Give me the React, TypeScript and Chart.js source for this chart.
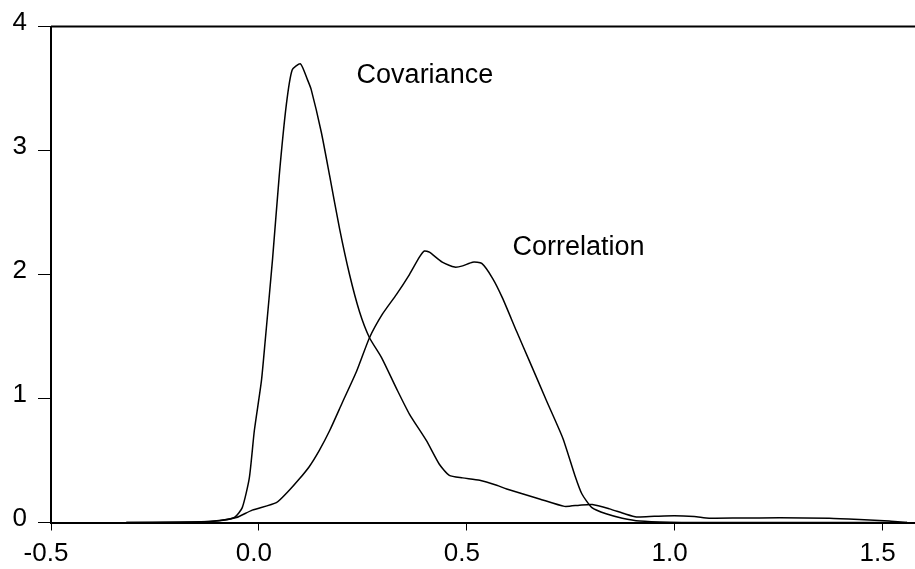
import React, { useEffect, useRef } from "react";
import { Chart, registerables } from "chart.js";

Chart.register(...registerables);

const covX = [-0.319, -0.191, -0.107, -0.059, -0.04, -0.023, -0.011, 0.006, 0.015, 0.033, 0.049, 0.066, 0.08, 0.1, 0.117, 0.126, 0.15, 0.17, 0.194, 0.218, 0.242, 0.266, 0.295, 0.331, 0.362, 0.403, 0.434, 0.458, 0.49, 0.531, 0.572, 0.596, 0.675, 0.735, 0.771, 0.802, 0.843, 0.88, 0.908, 0.951, 0.999, 1.047, 1.083, 1.156, 1.252, 1.372, 1.444, 1.516, 1.559];
const covY = [0, 0.002, 0.012, 0.04, 0.12, 0.36, 0.74, 1.14, 1.46, 2.13, 2.8, 3.37, 3.65, 3.7, 3.57, 3.49, 3.15, 2.8, 2.37, 2.0, 1.7, 1.49, 1.33, 1.08, 0.875, 0.66, 0.47, 0.38, 0.36, 0.34, 0.3, 0.27, 0.19, 0.13, 0.14, 0.145, 0.11, 0.07, 0.045, 0.05, 0.055, 0.048, 0.035, 0.036, 0.038, 0.035, 0.025, 0.012, 0.0];

const corX = [-0.319, -0.143, -0.095, -0.054, -0.016, 0.042, 0.073, 0.097, 0.121, 0.145, 0.17, 0.201, 0.235, 0.266, 0.297, 0.331, 0.362, 0.386, 0.398, 0.41, 0.441, 0.471, 0.49, 0.514, 0.536, 0.562, 0.586, 0.62, 0.651, 0.692, 0.731, 0.76, 0.777, 0.801, 0.835, 0.874, 0.916, 0.988, 1.06, 1.559];
const corY = [0, 0.005, 0.015, 0.04, 0.1, 0.16, 0.26, 0.35, 0.45, 0.58, 0.74, 0.97, 1.22, 1.49, 1.68, 1.84, 2.0, 2.14, 2.19, 2.18, 2.1, 2.06, 2.07, 2.1, 2.09, 1.97, 1.81, 1.54, 1.3, 0.98, 0.68, 0.38, 0.23, 0.12, 0.07, 0.035, 0.012, 0.002, 0, 0];

const xTicks = [-0.5, 0.0, 0.5, 1.0, 1.5];
const yTicks = [0, 1, 2, 3, 4];
const xMin = -0.5;
const xMax = 1.578;
const yMin = 0;
const yMax = 4;

const noteTexts = ["Covariance", "Correlation"];
const noteX = [0.235, 0.61];
const noteY = [3.547, 2.16];

const FONT = "'Liberation Sans', Arial, Helvetica, sans-serif";
const FONT_SIZE = 26;
const NOTE_SIZE = 27;

export default function App() {
  const canvasRef = useRef<HTMLCanvasElement | null>(null);

  useEffect(() => {
    if (!canvasRef.current) return;

    const framePlugin = {
      id: "frameAndNotes",
      afterDraw(chart: any) {
        const ctx = chart.ctx;
        const { left, right, top } = chart.chartArea;
        ctx.save();
        ctx.strokeStyle = "#000";
        ctx.lineWidth = 2;
        ctx.beginPath();
        ctx.moveTo(left, top);
        ctx.lineTo(right, top);
        ctx.stroke();
        const xs = chart.scales.x;
        const ys = chart.scales.y;
        ctx.fillStyle = "#000";
        ctx.font = `${NOTE_SIZE}px ${FONT}`;
        ctx.textAlign = "left";
        ctx.textBaseline = "alphabetic";
        noteTexts.forEach((t, i) => {
          ctx.fillText(t, xs.getPixelForValue(noteX[i]), ys.getPixelForValue(noteY[i]));
        });
        ctx.restore();
      },
    };

    const chart = new Chart(canvasRef.current, {
      type: "line",
      data: {
        datasets: [
          {
            label: "Covariance",
            data: covX.map((x, i) => ({ x, y: covY[i] })),
            borderColor: "#000",
            borderWidth: 1.5,
            pointRadius: 0,
            tension: 0.2,
            fill: false,
          },
          {
            label: "Correlation",
            data: corX.map((x, i) => ({ x, y: corY[i] })),
            borderColor: "#000",
            borderWidth: 1.5,
            pointRadius: 0,
            tension: 0.2,
            fill: false,
          },
        ],
      },
      options: {
        animation: false,
        responsive: true,
        maintainAspectRatio: false,
        layout: { padding: { left: 0, right: 0, top: 24, bottom: 0 } },
        plugins: {
          legend: { display: false },
          tooltip: { enabled: false },
          title: { display: false },
        },
        scales: {
          x: {
            type: "linear",
            min: xMin,
            max: xMax,
            afterBuildTicks: (scale: any) => {
              scale.ticks = xTicks.map((v) => ({ value: v }));
            },
            afterFit: (scale: any) => {
              scale.height = 46.5;
            },
            grid: {
              drawOnChartArea: false,
              drawTicks: true,
              tickLength: 8,
              color: "#000",
              lineWidth: 1,
            },
            border: { display: true, color: "#000", width: 2 },
            ticks: {
              color: "#000",
              font: { family: FONT, size: FONT_SIZE },
              padding: 8,
              labelOffset: -5,
              maxRotation: 0,
              autoSkip: false,
              callback: (v: any) => Number(v).toFixed(1),
            },
          },
          y: {
            type: "linear",
            min: yMin,
            max: yMax,
            afterBuildTicks: (scale: any) => {
              scale.ticks = yTicks.map((v) => ({ value: v }));
            },
            afterFit: (scale: any) => {
              scale.width = 51;
            },
            grid: {
              drawOnChartArea: false,
              drawTicks: true,
              tickLength: 13,
              color: "#000",
              lineWidth: 1,
            },
            border: { display: true, color: "#000", width: 2 },
            ticks: {
              color: "#000",
              font: { family: FONT, size: FONT_SIZE },
              padding: 11,
              labelOffset: -4,
              callback: (v: any) => String(v),
            },
          },
        },
      },
      plugins: [framePlugin],
    });

    return () => chart.destroy();
  }, []);

  return (
    <div style={{ position: "absolute", left: 0, top: 0, width: 915, height: 569, background: "#fff" }}>
      <canvas ref={canvasRef} />
    </div>
  );
}
